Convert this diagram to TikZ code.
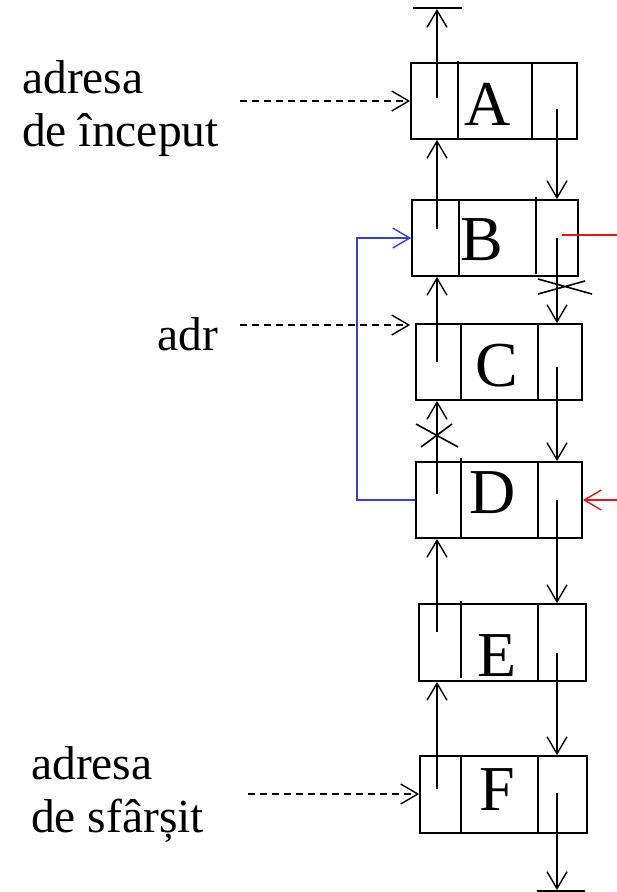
\documentclass[tikz,border=0pt]{standalone}
\usepackage{fontspec}
\setmainfont{Liberation Serif}
\usetikzlibrary{arrows.meta}
\definecolor{myblue}{RGB}{60,60,220}
\definecolor{myred}{RGB}{235,20,20}
\begin{document}
\begin{tikzpicture}[x=1pt,y=-1pt,
  box/.style={draw,line width=1.8pt,inner sep=0pt,minimum width=166pt,minimum height=76pt},
  cell/.style={line width=1.8pt},
  letter/.style={inner sep=0pt,anchor=base,font=\fontsize{64}{64}\selectfont},
  lbl/.style={inner sep=0pt,anchor=base west,font=\fontsize{47.5}{53}\selectfont},
  tip/.style={-{Straight Barb[length=17pt,width=20pt,line width=1.4pt]}},
  ptr/.style={line width=1.4pt,tip},
  dsh/.style={line width=1.6pt,dash pattern=on 7pt off 5pt,tip},
  xline/.style={line width=1.6pt}]
\useasboundingbox (0,0) rectangle (617,892);
% boxes
\node[box] (A) at (494,101) {};
\node[box] (B) at (495,238) {};
\node[box] (C) at (499,362) {};
\node[box] (D) at (499,500) {};
\node[box,minimum width=167pt,minimum height=77pt] (E) at (502.5,642.5) {};
\node[box,minimum width=167pt,minimum height=77pt] (F) at (503.5,794.5) {};
% dividers
\draw[cell] (458,61) -- (458,139) (532,63) -- (532,139);
\draw[cell] (459,200) -- (459,276) (536,197) -- (536,274);
\draw[cell] (461,324) -- (461,400) (538,324) -- (538,400);
\draw[cell] (461,458) -- (461,538) (538,462) -- (538,538);
\draw[cell] (461,601) -- (461,678) (538,604) -- (538,681);
\draw[cell] (461,756) -- (461,833) (538,756) -- (538,833);
% letters
\node[letter] (tA) at (488,125) {A};
\node[letter] (tB) at (482,260) {B};
\node[letter] (tC) at (497,386) {C};
\node[letter] (tD) at (493,513) {D};
\node[letter] (tE) at (497,676) {E};
\node[letter] (tF) at (497,810) {F};
% pointer origins
\coordinate (lA) at (437,98);
\coordinate (lB) at (437,229);
\coordinate (lC) at (437,362);
\coordinate (lD) at (437,494);
\coordinate (lE) at (437,632);
\coordinate (lF) at (437,789);
\coordinate (rA) at (557,109);
\coordinate (rB) at (557,238);
\coordinate (rC) at (557,367);
\coordinate (rD) at (557,500);
\coordinate (rE) at (557,653);
\coordinate (rF) at (557,793);
\coordinate (top) at (437,9);
\coordinate (bot) at (557,890);
% back pointers
\draw[ptr] (lA) -- (top);
\draw[line width=1.4pt] (413,8) -- (462,8);
\draw[ptr] (lB) -- (lB |- A.south);
\draw[ptr] (lC) -- (lC |- B.south);
\draw[ptr] (lD) -- (lD |- C.south);
\draw[ptr] (lE) -- (lE |- D.south);
\draw[ptr] (lF) -- (lF |- E.south);
% forward pointers
\draw[ptr] (rA) -- (rA |- B.north);
\draw[ptr] (rB) -- (rB |- C.north);
\draw[ptr] (rC) -- (rC |- D.north);
\draw[ptr] (rD) -- (rD |- E.north);
\draw[ptr] (rE) -- (rE |- F.north);
\draw[ptr] (rF) -- (bot);
\draw[line width=1.4pt] (537,891) -- (585,891);
% crosses
\draw[xline] (538,279) -- (592,294) (538,294) -- (585,281);
\draw[xline] (416,424) -- (458,447) (421,447) -- (452,424);
% blue link
\coordinate (bl1) at (357,500);
\coordinate (bl2) at (357,238);
\draw[myblue,line width=1.4pt,tip]
  (D.west |- bl1) -- (bl1) -- (bl2) -- (B.west |- bl2);
% red marks
\coordinate (red1) at (562,235);
\coordinate (red2) at (617,235);
\draw[myred,line width=1.6pt] (red1) -- (red2);
\coordinate (red3) at (617,500);
\draw[myred,line width=1.6pt,tip] (red3) -- (D.east |- red3);
% labels
\node[lbl] (l1) at (22,93) {adresa};
\node[lbl] (l2) at (22,146) {de început};
\node[lbl] (l3) at (157,350) {adr};
\node[lbl] (l4) at (31,779) {adresa};
\node[lbl] (l5) at (31,832) {de sfârșit};
% dashed arrows
\coordinate (d1) at (240,101);
\coordinate (d2) at (240,325);
\coordinate (d3) at (248,794);
\draw[dsh] (d1) -- (A.west |- d1);
\draw[dsh,shorten >=5pt] (d2) -- (C.west |- d2);
\draw[dsh] (d3) -- (F.west |- d3);
\end{tikzpicture}
\end{document}
